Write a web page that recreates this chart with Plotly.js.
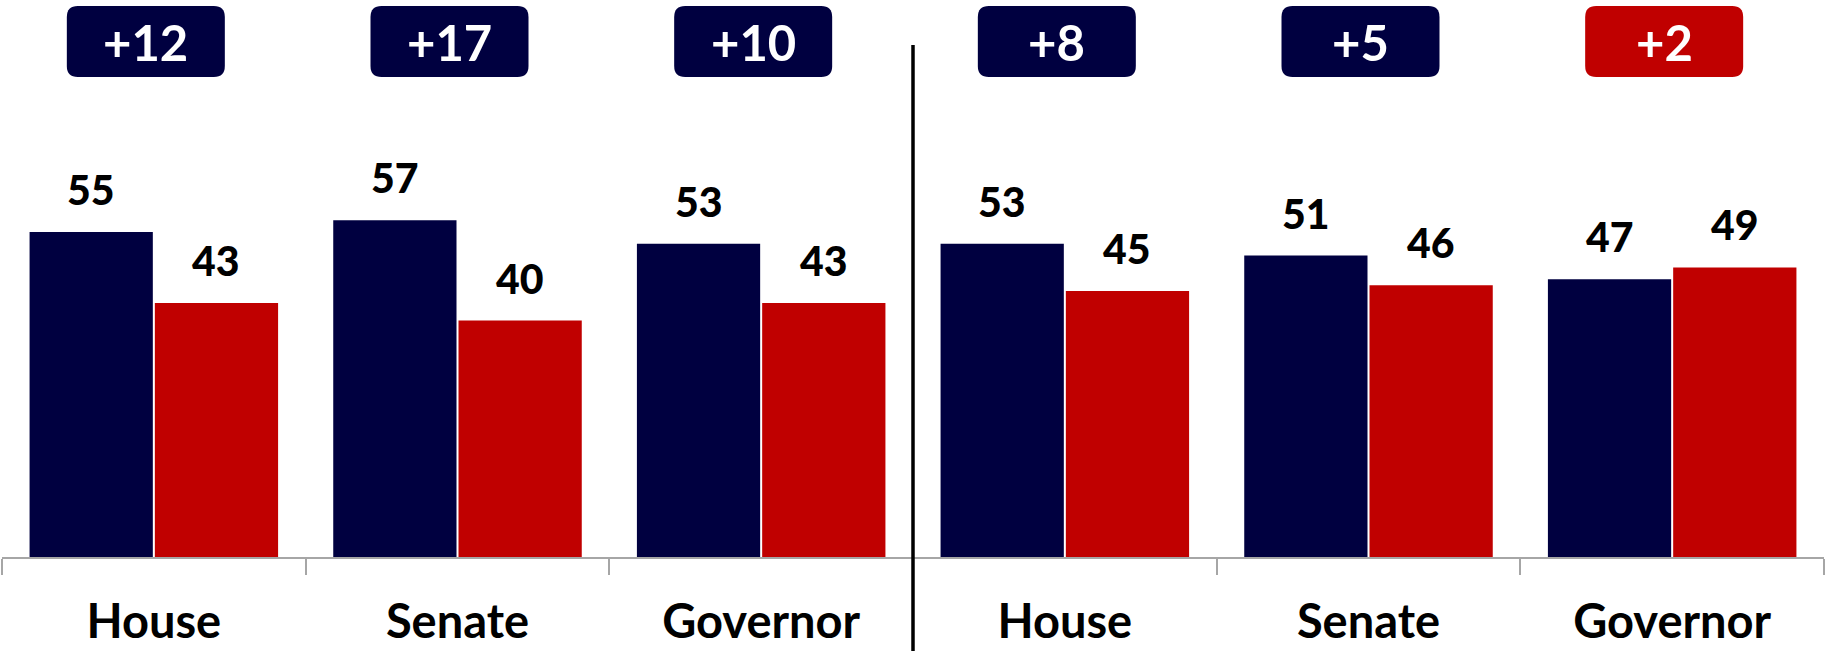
<!DOCTYPE html>
<html><head><meta charset="utf-8">
<script src="https://cdn.plot.ly/plotly-3.0.1.min.js"></script>
<style>html,body{margin:0;padding:0;background:#fff;overflow:hidden;} #chart{width:1825px;height:651px;}</style>
</head><body><div id="chart"></div>
<script>
// ---- data ----
const categories = ['House', 'Senate', 'Governor'];
const demLeft = [55, 57, 53];
const repLeft = [43, 40, 43];
const demRight = [53, 51, 47];
const repRight = [45, 46, 49];

// ---- style / layout constants ----
const W = 1825, H = 651;
const M = {l: 2, r: 1, t: 0, b: 94};
const BLUE = '#000040', RED = '#C00000', AXIS = '#a6a6a6';
const FONT = 'Lato, "Open Sans", sans-serif';
const BARGAP = 0.175, GROUPGAP = 0.016;
const YMAX = 94.25;
const plotW = W - M.l - M.r, plotH = H - M.t - M.b;
const catPx = plotW / 2 / categories.length;

const panels = [
  {xa: 'x', dem: demLeft, rep: repLeft},
  {xa: 'x2', dem: demRight, rep: repRight}
];

const traces = [];
const annotations = [];
const shapes = [];
const off = (1 - BARGAP) / 4;

// box geometry (pixels -> axis units)
const boxHalfW = 79 / catPx, rx = 11 / catPx, ry = 11 / plotH, boxShift = -8 / catPx;
const boxTop = 1 - 6 / plotH, boxBot = 1 - 77 / plotH;

panels.forEach(p => {
  traces.push({type: 'bar', x: categories, y: p.dem, xaxis: p.xa, yaxis: 'y',
    marker: {color: BLUE}, hoverinfo: 'none', showlegend: false});
  traces.push({type: 'bar', x: categories, y: p.rep, xaxis: p.xa, yaxis: 'y',
    marker: {color: RED}, hoverinfo: 'none', showlegend: false});
  categories.forEach((c, i) => {
    [[p.dem[i], -off], [p.rep[i], off]].forEach(([v, o]) => {
      annotations.push({xref: p.xa, yref: 'y', x: i + o, y: v, text: String(v),
        showarrow: false, yanchor: 'bottom', yshift: 16,
        font: {family: FONT, size: 41, color: '#000', weight: 900}});
    });
    const diff = p.dem[i] - p.rep[i];
    const col = diff >= 0 ? BLUE : RED;
    const cx = i + boxShift;
    const x0 = cx - boxHalfW, x1 = cx + boxHalfW, y0 = boxBot, y1 = boxTop;
    const path = `M ${x0 + rx},${y0} L ${x1 - rx},${y0} Q ${x1},${y0} ${x1},${y0 + ry} ` +
      `L ${x1},${y1 - ry} Q ${x1},${y1} ${x1 - rx},${y1} L ${x0 + rx},${y1} ` +
      `Q ${x0},${y1} ${x0},${y1 - ry} L ${x0},${y0 + ry} Q ${x0},${y0} ${x0 + rx},${y0} Z`;
    shapes.push({type: 'path', xref: p.xa, yref: 'paper', path: path,
      fillcolor: col, line: {width: 0}, layer: 'above'});
    annotations.push({xref: p.xa, yref: 'paper', x: cx, y: (boxTop + boxBot) / 2,
      text: '+' + Math.abs(diff), showarrow: false, yanchor: 'middle',
      font: {family: FONT, size: 49, color: '#fff', weight: 700}});
  });
});

// divider between the two panels
shapes.push({type: 'line', xref: 'paper', yref: 'paper', x0: 0.5, x1: 0.5,
  y0: -M.b / plotH, y1: 1 - 45 / plotH, line: {color: '#000', width: 3.5}});

const xCommon = {
  type: 'category', anchor: 'y', showgrid: false, zeroline: false,
  showline: true, linecolor: AXIS, linewidth: 2,
  ticks: 'outside', tickson: 'boundaries', ticklen: 16, tickwidth: 2, tickcolor: AXIS,
  ticklabelstandoff: 23,
  tickfont: {family: FONT, size: 47, color: '#000', weight: 700},
  fixedrange: true
};

const layout = {
  width: W, height: H, margin: M,
  paper_bgcolor: '#fff', plot_bgcolor: '#fff',
  barmode: 'group', bargap: BARGAP, bargroupgap: GROUPGAP,
  xaxis: Object.assign({}, xCommon, {domain: [0, 0.5]}),
  xaxis2: Object.assign({}, xCommon, {domain: [0.5, 1]}),
  yaxis: {range: [0, YMAX], visible: false, fixedrange: true},
  annotations: annotations, shapes: shapes, showlegend: false
};

Plotly.newPlot('chart', traces, layout, {displayModeBar: false, staticPlot: true});
</script>
</body></html>
